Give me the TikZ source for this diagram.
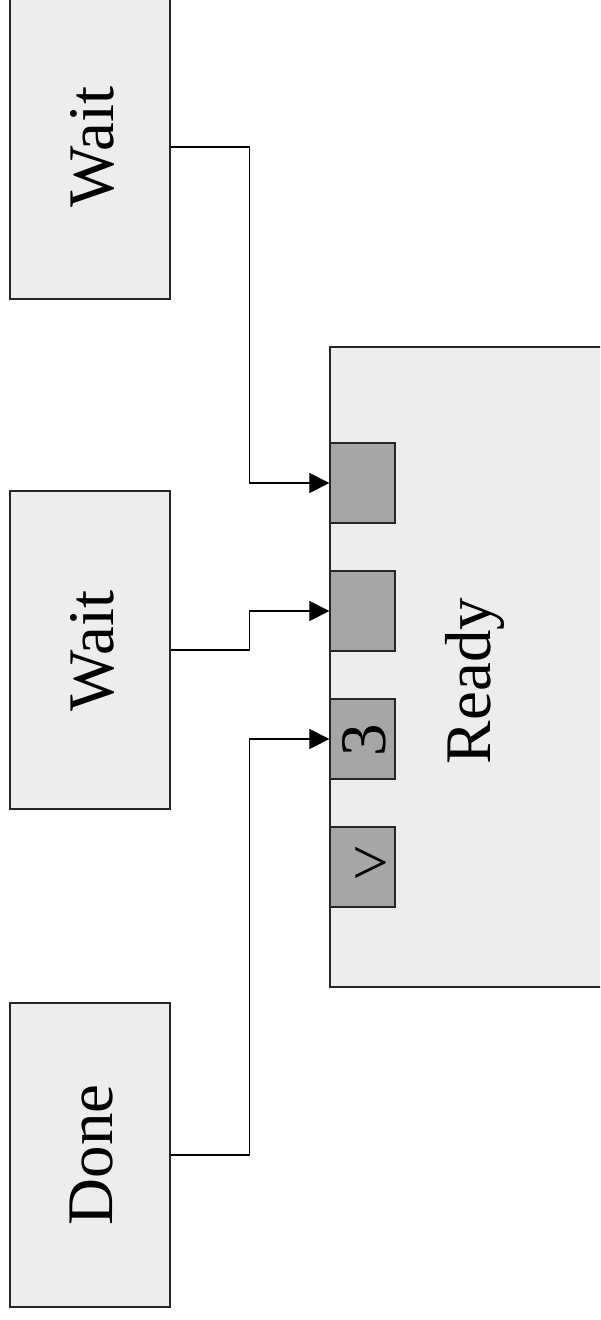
\documentclass[tikz,border=0pt]{standalone}
\usepackage{fontspec}
\setmainfont{Liberation Serif}
\usetikzlibrary{arrows.meta}
\begin{document}
\begin{tikzpicture}[x=1pt,y=-1pt,
  statebox/.style={draw=black!85,fill=black!7,line width=1.3pt,inner sep=0pt},
  slot/.style={draw=black!85,fill=black!35,line width=1.3pt,inner sep=0pt,minimum width=65pt,minimum height=80pt},
  bigtxt/.style={font=\fontsize{65}{78}\selectfont,inner sep=0pt},
  conn/.style={draw=black,line width=1.2pt,-{Triangle[length=20pt,width=20pt]}}]
\useasboundingbox (0,0) rectangle (600,1320);
\clip (0,0) rectangle (600,1320);
% left boxes
\node[statebox,minimum width=160pt,minimum height=304pt] (wait1) at (90,147) {};
\node[bigtxt,rotate=90] (wait1lbl) at (92,147) {Wait};
\node[statebox,minimum width=160pt,minimum height=318pt] (wait2) at (90,650) {};
\node[bigtxt,rotate=90] (wait2lbl) at (92,651) {Wait};
\node[statebox,minimum width=160pt,minimum height=304pt] (done) at (90,1155) {};
\node[bigtxt,rotate=90] (donelbl) at (92,1155) {Done};
% ready box
\node[statebox,minimum width=290pt,minimum height=640pt] (ready) at (475,667) {};
\node[bigtxt,rotate=90] (readylbl) at (475,681) {Ready};
% slots
\node[slot,anchor=west] (s1) at (ready.west |- 0,483) {};
\node[slot,anchor=west] (s2) at (ready.west |- 0,611) {};
\node[slot,anchor=west] (s3) at (ready.west |- 0,739) {};
\node[slot,anchor=west] (s4) at (ready.west |- 0,867) {};
\node[bigtxt,rotate=90] (s3lbl) at (364,740) {3};
\node[bigtxt] (s4lbl) at (371,866) {>};
% connectors
\draw[conn] (wait1.east) -| ([xshift=-80pt]s1.west) -- (s1.west);
\draw[conn] (wait2.east) -| ([xshift=-80pt]s2.west) -- (s2.west);
\draw[conn] (done.east) -| ([xshift=-80pt]s3.west) -- (s3.west);
\end{tikzpicture}
\end{document}
